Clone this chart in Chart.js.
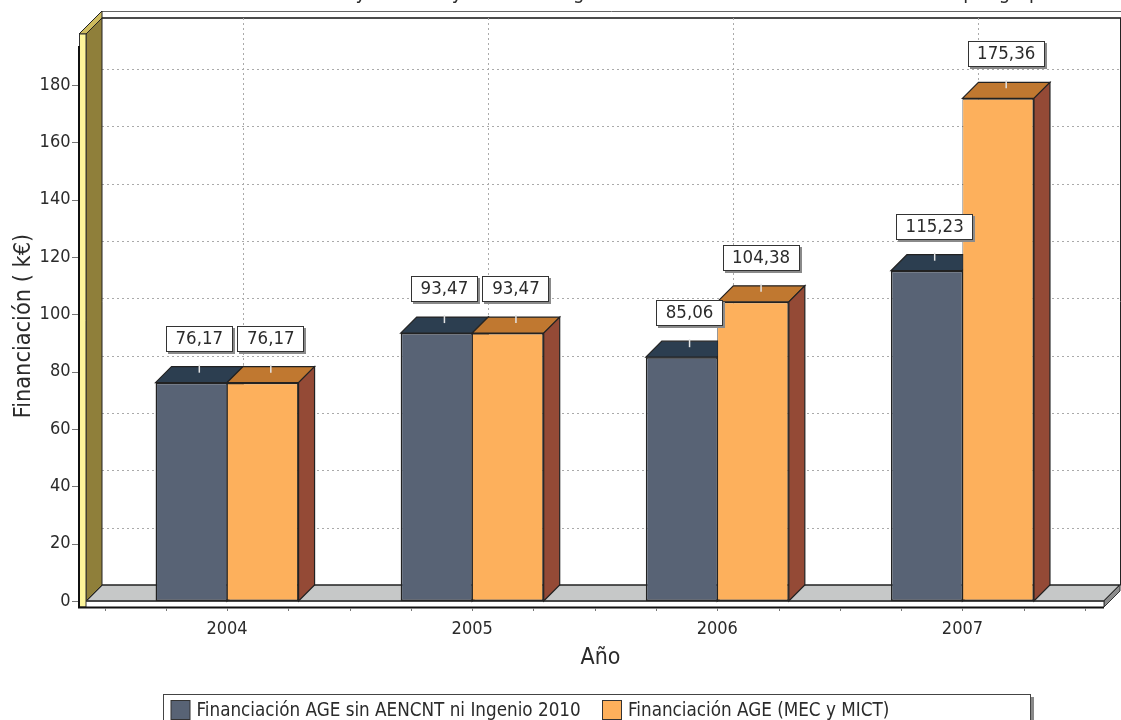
<!DOCTYPE html>
<html>
<head>
<meta charset="utf-8">
<script src="https://cdn.jsdelivr.net/npm/chart.js@4"></script>
<style>
  html, body { margin: 0; padding: 0; background: #fff; overflow: hidden; }
  #wrap { position: relative; width: 1121px; height: 720px; }
</style>
</head>
<body>
<div id="wrap"><canvas id="myChart" width="1121" height="720"></canvas></div>
<script>
const years = ["2004", "2005", "2006", "2007"];
const sinAencnt = [76.17, 93.47, 85.06, 115.23];
const mecMict = [76.17, 93.47, 104.38, 175.36];
const seriesNames = ["Financiación AGE sin AENCNT ni Ingenio 2010", "Financiación AGE (MEC y MICT)"];
// the top of the title is cut off in the original, only the tails of its letters show
const chartTitle = "Financiación AGE MEC y AENCNT y MICT con Ingenio 2010 en todos los años 2004 a 2007 por grupo";
const xTitle = "Año";
const yTitle = "Financiación ( k€)";

const FONT = "'DejaVu Sans Condensed', 'DejaVu Sans', sans-serif";
const TEXT = "#2b2b2b";
const DEPTH = 16;
const topColors = ["#2c3e50", "#c07830"];
const sideColors = ["#3a4657", "#944a36"];

function poly(ctx, pts, fill, stroke, lw) {
  ctx.beginPath();
  pts.forEach((p, i) => i ? ctx.lineTo(p[0], p[1]) : ctx.moveTo(p[0], p[1]));
  ctx.closePath();
  if (fill) { ctx.fillStyle = fill; ctx.fill(); }
  if (stroke) { ctx.strokeStyle = stroke; ctx.lineWidth = lw || 1; ctx.stroke(); }
}

function line(ctx, x1, y1, x2, y2, color, lw, dash) {
  ctx.save();
  ctx.beginPath();
  ctx.setLineDash(dash || []);
  ctx.moveTo(x1, y1);
  ctx.lineTo(x2, y2);
  ctx.strokeStyle = color;
  ctx.lineWidth = lw || 1;
  ctx.stroke();
  ctx.restore();
}

// walls, floor and the dotted grid on the back plane
const backdrop = {
  id: "backdrop",
  beforeDatasetsDraw(chart) {
    const ctx = chart.ctx;
    const { x, y } = chart.scales;
    const wallTop = 18, floorY = y.getPixelForValue(0), frontL = 86, backL = frontL + DEPTH;
    const backR = 1120, frontR = backR - DEPTH;
    ctx.save();

    // back frame
    line(ctx, backL, 11.5, 1121, 11.5, "#666", 1);
    line(ctx, backL, 18, 1121, 18, "#111", 1.5);
    line(ctx, backR + 0.5, 18, backR + 0.5, floorY - DEPTH, "#222", 1);

    // dotted grid
    const dash = [2, 3];
    y.ticks.forEach(t => {
      const py = Math.round(y.getPixelForValue(t.value)) + 0.5;
      if (t.value === 0) return;
      line(ctx, frontL, py, backL, py - DEPTH, "#aaa", 1, dash);
      line(ctx, backL, py - DEPTH, backR, py - DEPTH, "#aaa", 1, dash);
    });
    x.ticks.forEach((t, i) => {
      const px = Math.round(x.getPixelForTick(i)) + DEPTH + 0.5;
      line(ctx, px, wallTop, px, floorY - DEPTH, "#aaa", 1, dash);
    });

    // floor
    poly(ctx, [[frontL, floorY], [backL, floorY - DEPTH], [backR, floorY - DEPTH], [frontR, floorY]], "#c6c8c8", "#222", 1.5);
    poly(ctx, [[frontR, floorY], [backR, floorY - DEPTH], [backR, floorY - DEPTH + 6], [frontR, floorY + 6]], "#8c8c8c", "#333", 1);
    ctx.fillStyle = "#fff";
    ctx.fillRect(79, floorY + 1, frontR - 79, 5);
    line(ctx, frontL, floorY, frontR, floorY, "#444", 1.5);
    line(ctx, frontR, floorY, frontR, floorY + 6, "#333", 1);

    // left wall
    poly(ctx, [[frontL, 34], [backL, wallTop], [backL, floorY - DEPTH], [frontL, floorY]], "#8f7f3a", "#222", 1);
    poly(ctx, [[79, 34], [backL, 11], [backL, wallTop], [frontL, 34]], "#cdbb5e", "#222", 1);
    poly(ctx, [[79.5, 34], [frontL, 34], [frontL, floorY + 6], [79.5, floorY + 6]], "#fdf59a", "#333", 1);

    // axis lines and tick marks
    line(ctx, 79, 46, 79, floorY + 7, "#111", 2);
    line(ctx, 78, floorY + 6.5, frontR, floorY + 6.5, "#111", 2);
    y.ticks.forEach(t => {
      const py = Math.round(y.getPixelForValue(t.value)) + 0.5;
      line(ctx, 72, py, 78, py, "#777", 1);
    });
    const step = (x.getPixelForTick(1) - x.getPixelForTick(0)) / 4;
    for (let i = 0; i <= 16; i++) {
      const px = Math.round(x.left + i * step) + 0.5;
      line(ctx, px, floorY + 7, px, floorY + 10, "#777", 1);
    }

    // top and side of each bar, the library paints the fronts over these
    chart.data.datasets.forEach((ds, i) => {
      chart.getDatasetMeta(i).data.forEach(bar => {
        const l = bar.x - bar.width / 2, r = bar.x + bar.width / 2;
        poly(ctx, [[l, bar.y], [l + DEPTH, bar.y - DEPTH], [r + DEPTH, bar.y - DEPTH], [r, bar.y]], topColors[i], "#222", 1.2);
        poly(ctx, [[r, bar.y], [r + DEPTH, bar.y - DEPTH], [r + DEPTH, bar.base - DEPTH], [r, bar.base]], sideColors[i], "#222", 1.2);
      });
    });
    ctx.restore();
  },
  afterDatasetsDraw(chart) {
    const ctx = chart.ctx;
    ctx.save();
    ctx.font = "18.5px " + FONT;
    ctx.textAlign = "center";
    ctx.textBaseline = "middle";
    chart.data.datasets.forEach((ds, i) => {
      chart.getDatasetMeta(i).data.forEach((bar, k) => {
        const label = ds.data[k].toFixed(2).replace(".", ",");
        const cx = bar.x + DEPTH / 2;
        const w = Math.round(ctx.measureText(label).width + 19);
        const bx = Math.round(cx - w / 2), by = Math.round(bar.y - 57);
        line(ctx, cx, bar.y - 18, cx, bar.y - 10, "#e4e4e4", 1.5);
        ctx.fillStyle = "#8a8a8a";
        ctx.fillRect(bx + 2, by + 2, w, 26);
        ctx.fillStyle = "#fff";
        ctx.fillRect(bx, by, w, 26);
        ctx.strokeStyle = "#333";
        ctx.lineWidth = 1;
        ctx.strokeRect(bx + 0.5, by + 0.5, w - 1, 25);
        ctx.fillStyle = TEXT;
        ctx.fillText(label, cx, by + 13.5);
      });
    });
    ctx.restore();

    // title and axis titles
    ctx.save();
    ctx.fillStyle = TEXT;
    ctx.textAlign = "center";
    ctx.textBaseline = "alphabetic";
    ctx.font = "20px " + FONT;
    ctx.fillText(chartTitle, 601, -1);
    ctx.font = "23px " + FONT;
    ctx.fillText(xTitle, 600.5, 664);
    ctx.translate(30, 326);
    ctx.rotate(-Math.PI / 2);
    ctx.font = "23.3px " + FONT;
    ctx.fillText(yTitle, 0, 0);
    ctx.restore();

    // legend, cut off by the bottom of the picture like the original
    ctx.save();
    ctx.fillStyle = "#888";
    ctx.fillRect(1031, 697, 3, 30);
    ctx.fillStyle = "#fff";
    ctx.fillRect(163, 694, 868, 30);
    ctx.strokeStyle = "#444";
    ctx.lineWidth = 1;
    ctx.strokeRect(163.5, 694.5, 867, 30);
    ctx.font = "18.7px " + FONT;
    ctx.textBaseline = "alphabetic";
    ctx.textAlign = "left";
    let lx = 171;
    chart.data.datasets.forEach((ds, i) => {
      ctx.fillStyle = ds.backgroundColor;
      ctx.fillRect(lx, 700.5, 19, 19);
      ctx.strokeStyle = "#333";
      ctx.strokeRect(lx, 700.5, 19, 19);
      ctx.fillStyle = TEXT;
      ctx.fillText(ds.label, lx + 25.5, 716);
      lx = 602.5;
    });
    ctx.restore();
  }
};

new Chart(document.getElementById("myChart"), {
  type: "bar",
  data: {
    labels: years,
    datasets: [
      {
        label: seriesNames[0], data: sinAencnt, backgroundColor: "#586375", borderColor: "#222",
        borderSkipped: false, borderWidth: { left: 1.5, top: 1.5, right: 0.75, bottom: 1.5 }
      },
      {
        label: seriesNames[1], data: mecMict, backgroundColor: "#fdb05c", borderColor: "#222",
        borderSkipped: false, borderWidth: { left: 0.75, top: 1.5, right: 1.5, bottom: 1.5 }
      }
    ]
  },
  options: {
    responsive: false,
    animation: false,
    layout: { padding: { left: 0, right: 36, top: 18, bottom: 0 } },
    datasets: { bar: { categoryPercentage: 0.5835, barPercentage: 1 } },
    plugins: {
      legend: { display: false },
      tooltip: { enabled: false },
      title: { display: false }
    },
    scales: {
      x: {
        afterFit(s) { s.height = 119; },
        grid: { display: false },
        border: { display: false },
        ticks: { color: TEXT, padding: 10, font: { family: FONT, size: 18 }, maxRotation: 0 }
      },
      y: {
        min: 0,
        max: 203.4,
        afterFit(s) { s.width = 104.5; },
        afterBuildTicks(s) { s.ticks = s.ticks.filter(t => t.value <= 180); },
        grid: { display: false, drawTicks: true, tickLength: 34 },
        border: { display: false },
        ticks: { stepSize: 20, includeBounds: false, color: TEXT, padding: 0, font: { family: FONT, size: 18 } }
      }
    }
  },
  plugins: [backdrop]
});
</script>
</body>
</html>
